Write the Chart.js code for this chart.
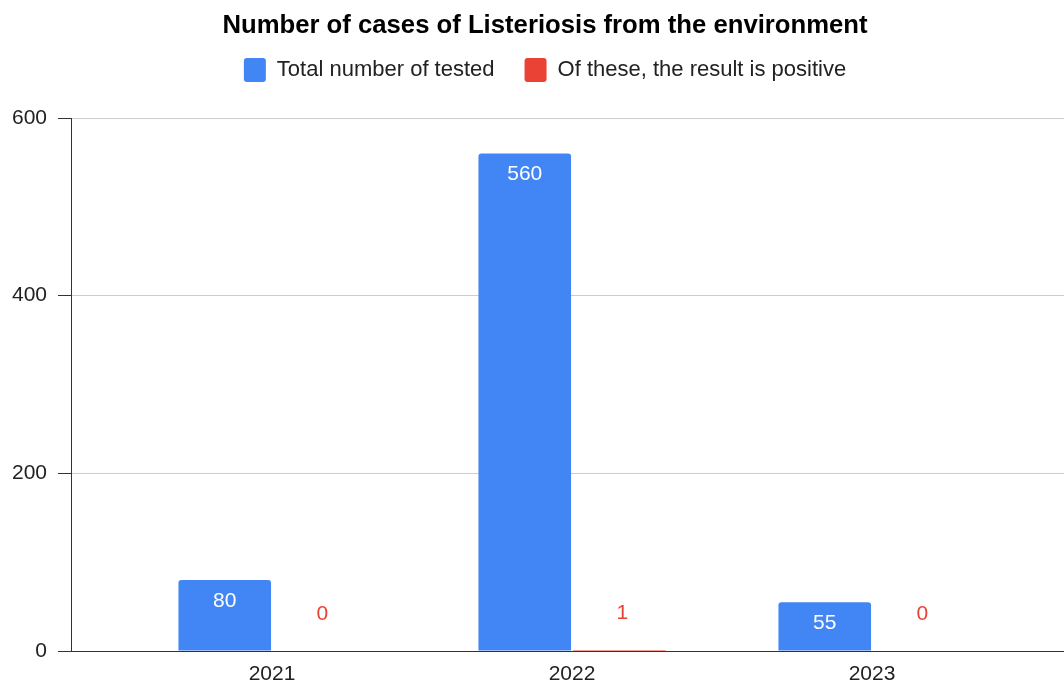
<!DOCTYPE html>
<html>
<head>
<meta charset="utf-8">
<script src="https://cdn.jsdelivr.net/npm/chart.js@4"></script>
<style>
  html, body { margin: 0; padding: 0; background: #fff; overflow: hidden; }
  #wrap { width: 1106px; height: 684px; }
</style>
</head>
<body>
<div id="wrap"><canvas id="chart"></canvas></div>
<script>
const years = ['2021', '2022', '2023'];
const tested = [80, 560, 55];
const positive = [0, 1, 0];
const yTicks = [0, 200, 400, 600];

const font = 'Arial, "Liberation Sans", sans-serif';

// bar value labels: white inside blue bars, red above the red ones
const valueLabels = {
    id: 'valueLabels',
    afterDatasetsDraw(chart) {
        const ctx = chart.ctx;
        ctx.save();
        ctx.font = '21px ' + font;
        ctx.textAlign = 'center';
        ctx.textBaseline = 'middle';
        chart.data.datasets.forEach((ds, di) => {
            chart.getDatasetMeta(di).data.forEach((bar, i) => {
                const v = ds.data[i].y;
                if (di === 0) {
                    ctx.fillStyle = '#ffffff';
                    ctx.fillText(v, bar.x, bar.y + 21);
                } else {
                    ctx.fillStyle = '#EA4335';
                    ctx.fillText(v, bar.x + 3, bar.y - 37);
                }
            });
        });
        ctx.restore();
    }
};

// extra room between legend and plot
const legendGap = {
    id: 'legendGap',
    beforeLayout(chart) {
        const lg = chart.legend;
        if (lg && !lg._gapPatched) {
            const fit = lg.fit;
            lg.fit = function () {
                fit.call(this);
                this.height += 26;
            };
            lg._gapPatched = true;
        }
    }
};

new Chart(document.getElementById('chart'), {
    type: 'bar',
    data: {
        datasets: [{
            label: 'Total number of tested',
            data: tested.map((v, i) => ({x: i, y: v})),
            backgroundColor: '#4285F4',
            borderRadius: {topLeft: 3, topRight: 3},
            borderSkipped: 'start',
            categoryPercentage: 0.63,
            barPercentage: 0.98
        }, {
            label: 'Of these, the result is positive',
            data: positive.map((v, i) => ({x: i, y: v})),
            backgroundColor: '#EA4335',
            borderSkipped: 'start',
            categoryPercentage: 0.63,
            barPercentage: 0.98
        }]
    },
    options: {
        responsive: true,
        maintainAspectRatio: false,
        animation: false,
        layout: { padding: { top: 0, right: 16, bottom: 0, left: 0 } },
        plugins: {
            title: {
                display: true,
                text: 'Number of cases of Listeriosis from the environment',
                color: '#000',
                font: { family: font, size: 25.7, weight: 'bold' },
                padding: { top: 10, bottom: -12.8 }
            },
            legend: {
                display: true,
                labels: {
                    color: '#222',
                    font: { family: font, size: 22 },
                    boxWidth: 22,
                    boxHeight: 24,
                    useBorderRadius: true,
                    borderRadius: 3,
                    padding: 30
                }
            },
            tooltip: { enabled: false }
        },
        scales: {
            x: {
                type: 'linear',
                offset: false,
                min: -0.67,
                max: -0.67 + (1090 - 71) / 300,
                afterBuildTicks: s => { s.ticks = years.map((_, i) => ({value: i})); },
                afterFit: s => { s.height = 33; },
                grid: { display: false, drawTicks: false, offset: false },
                border: { display: true, color: '#333', width: 1 },
                ticks: {
                    color: '#222',
                    font: { family: font, size: 21 },
                    padding: 11,
                    maxRotation: 0,
                    autoSkip: false,
                    callback: v => years[v]
                }
            },
            y: {
                min: 0,
                max: 600,
                afterBuildTicks: s => { s.ticks = yTicks.map(v => ({value: v})); },
                afterFit: s => { s.width = 71; },
                grid: {
                    color: '#cccccc',
                    tickLength: 13,
                    tickColor: '#333'
                },
                border: { display: true, color: '#333', width: 1 },
                ticks: {
                    color: '#222',
                    font: { family: font, size: 21 },
                    padding: 11
                }
            }
        }
    },
    plugins: [valueLabels, legendGap]
});
</script>
</body>
</html>
